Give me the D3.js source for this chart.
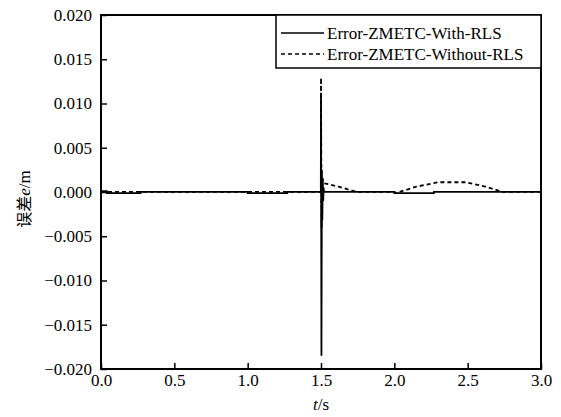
<!DOCTYPE html>
<html>
<head>
<meta charset="utf-8">
<script src="https://cdn.jsdelivr.net/npm/d3@7"></script>
<style>
  body { margin: 0; background: #fff; }
  svg text { font-family: "Liberation Serif", "Times New Roman", Times, "Nimbus Roman", "DejaVu Serif", serif; fill: #000; }
</style>
</head>
<body>
<div id="chart"></div>
<script>
/*Data*/
const xTicks = [0.0, 0.5, 1.0, 1.5, 2.0, 2.5, 3.0];
const yTicks = [-0.020, -0.015, -0.010, -0.005, 0.000, 0.005, 0.010, 0.015, 0.020];

/*Error-ZMETC-With-RLS (solid)*/
const withT = [0, 0.04, 0.04, 0.27, 0.27, 1.00, 1.00, 1.27, 1.27, 1.499,
               1.500, 1.503, 1.506, 1.509, 1.512, 1.515, 1.518, 1.52,
               2.00, 2.00, 2.27, 2.27, 3.00];
const withE = [0.0001, 0.0001, -0.00012, -0.00012, 0.00002, 0.00002, -0.00012, -0.00012, 0.00002, 0.00002,
               0.0110, -0.0185, 0.0025, -0.0032, 0.0015, -0.0010, 0.0005, 0.00002,
               0.00002, -0.00012, -0.00012, 0.00002, 0.00002];

/*Error-ZMETC-Without-RLS (dashed)*/
const withoutT = [0, 1.499, 1.500, 1.504, 1.508, 1.52, 1.62, 1.72, 1.75, 2.00, 2.01, 2.15, 2.30, 2.49, 2.62, 2.74, 3.00];
const withoutE = [0.00002, 0.00002, 0.0129, -0.004, 0.0016, 0.0010, 0.0006, 0.00012, 0.00002, 0.00002, -0.00012, 0.0006, 0.0011, 0.0011, 0.0006, 0.00002, 0.00002];

const legendNames = ["Error-ZMETC-With-RLS", "Error-ZMETC-Without-RLS"];

const chartWidth = 561;
const chartHeight = 417;
const margin = {left: 101, right: 20, top: 15, bottom: 48};
const serif = "'Liberation Serif', 'Times New Roman', Times, 'Nimbus Roman', 'DejaVu Serif', serif";

const svg = d3.select("#chart")
       .append("svg")
       .attr("width", chartWidth)
       .attr("height", chartHeight);

const xScale = d3.scaleLinear()
       .domain([0, 3])
       .range([margin.left, chartWidth - margin.right]);

const yScale = d3.scaleLinear()
       .domain([-0.02, 0.02])
       .range([chartHeight - margin.bottom, margin.top]);

/*Lines*/
const line = d3.line()
       .x(d => xScale(d[0]))
       .y(d => yScale(d[1]));

svg.append("path")
       .datum(withoutT.map((t, i) => [t, withoutE[i]]))
       .attr("d", line)
       .attr("fill", "none")
       .attr("stroke", "#000")
       .attr("stroke-width", 1.8)
       .attr("stroke-dasharray", "4,3");

svg.append("path")
       .datum(withT.map((t, i) => [t, withE[i]]))
       .attr("d", line)
       .attr("fill", "none")
       .attr("stroke", "#000")
       .attr("stroke-width", 1.8);

/*Axes, ticks pointing inward*/
const xAxis = d3.axisBottom(xScale)
       .tickValues(xTicks)
       .tickFormat(d3.format(".1f"))
       .tickSizeInner(-6)
       .tickSizeOuter(0)
       .tickPadding(5);

const yAxis = d3.axisLeft(yScale)
       .tickValues(yTicks)
       .tickFormat(d3.format(".3f"))
       .tickSizeInner(-6)
       .tickSizeOuter(0)
       .tickPadding(9);

svg.append("g")
       .attr("transform", "translate(0," + (chartHeight - margin.bottom) + ")")
       .call(xAxis)
       .attr("font-family", serif)
       .call(g => g.select(".domain").remove())
       .call(g => g.selectAll("line").attr("stroke-width", 1.5))
       .selectAll("text")
       .attr("font-size", 17);

svg.append("g")
       .attr("transform", "translate(" + margin.left + ",0)")
       .call(yAxis)
       .attr("font-family", serif)
       .call(g => g.select(".domain").remove())
       .call(g => g.selectAll("line").attr("stroke-width", 1.5))
       .selectAll("text")
       .attr("font-size", 17);

/*Frame*/
svg.append("rect")
       .attr("x", margin.left)
       .attr("y", margin.top)
       .attr("width", chartWidth - margin.right - margin.left)
       .attr("height", chartHeight - margin.bottom - margin.top)
       .attr("fill", "none")
       .attr("stroke", "#000")
       .attr("stroke-width", 2);

/*Axis titles*/
const xTitle = svg.append("text")
       .attr("x", xScale(1.5))
       .attr("y", 410)
       .attr("text-anchor", "middle")
       .attr("font-size", 17);
xTitle.append("tspan").attr("font-style", "italic").text("t");
xTitle.append("tspan").text("/s");

const yTitle = svg.append("text")
       .attr("transform", "translate(30," + yScale(-0.0008) + ") rotate(-90)")
       .attr("text-anchor", "middle")
       .attr("font-size", 17);
yTitle.append("tspan").style("font-family", "'Noto Sans CJK SC'").attr("font-size", 16).text("误差");
yTitle.append("tspan").attr("font-style", "italic").text("e");
yTitle.append("tspan").text("/m");

/*Legend*/
const legendX = 276;
const legendY = margin.top;
const legendW = xScale(3) - legendX;
const legendH = 53;

const legendGroup = svg.append("g").attr("id", "legend");

legendGroup.append("rect")
       .attr("x", legendX)
       .attr("y", legendY)
       .attr("width", legendW)
       .attr("height", legendH)
       .attr("fill", "#fff")
       .attr("stroke", "#000")
       .attr("stroke-width", 1.5);

legendNames.forEach((name, i) => {
       const rowY = legendY + 18 + i * 21;
       legendGroup.append("line")
              .attr("x1", legendX + 5)
              .attr("x2", legendX + 48)
              .attr("y1", rowY)
              .attr("y2", rowY)
              .attr("stroke", "#000")
              .attr("stroke-width", 1.5)
              .attr("stroke-dasharray", i === 0 ? null : "4,3");
       legendGroup.append("text")
              .attr("x", legendX + 51)
              .attr("y", rowY + 6)
              .attr("font-size", 17)
              .text(name);
});
</script>
</body>
</html>
